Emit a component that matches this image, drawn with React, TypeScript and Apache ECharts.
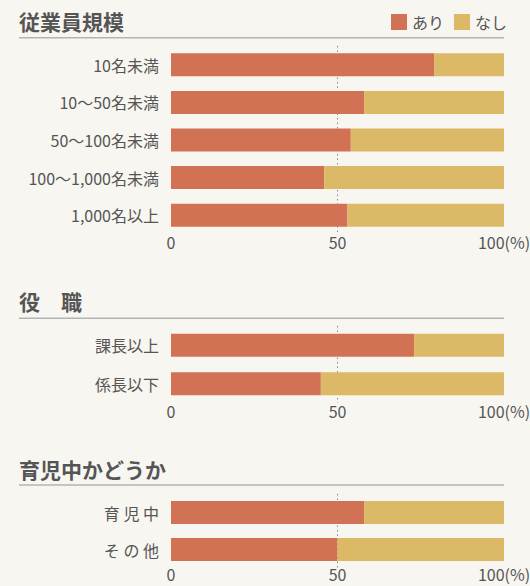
import React, { useEffect, useRef } from "react";
import * as echarts from "echarts";

const categories1 = ["10名未満", "10〜50名未満", "50〜100名未満", "100〜1,000名未満", "1,000名以上"];
const ari1 = [79, 58, 54, 46, 53];
const nashi1 = [21, 42, 46, 54, 47];

const categories2 = ["課長以上", "係長以下"];
const ari2 = [73, 45];
const nashi2 = [27, 55];

const categories3 = ["育 児 中", "そ の 他"];
const ari3 = [58, 50];
const nashi3 = [42, 50];

const sectionTitles = ["従業員規模", "役　職", "育児中かどうか"];
const legendNames = ["あり", "なし"];
const xTicks = [0, 50, 100];

const RED = "#d27255";
const YELLOW = "#dbb966";
const TEXT = "#555555";
const BG = "#f8f6f1";
const FONT = "'Noto Sans CJK JP', 'Noto Sans', sans-serif";

export default function App() {
  const ref = useRef<HTMLDivElement>(null);

  useEffect(() => {
    if (!ref.current) return;
    const chart = echarts.init(ref.current, null, { renderer: "svg" });

    const grids = [
      { left: 171, right: 26, top: 46, height: 188, outerBoundsMode: "none", containLabel: false },
      { left: 171, right: 26, top: 326, height: 77, outerBoundsMode: "none", containLabel: false },
      { left: 171, right: 26, top: 494, height: 74, outerBoundsMode: "none", containLabel: false },
    ];
    const labelMargins = [0, 0, -2];
    const cats = [categories1, categories2, categories3];
    const aris = [ari1, ari2, ari3];
    const nashis = [nashi1, nashi2, nashi3];
    const titleY = [23, 303, 471];
    const lineY = [37.7, 318.2, 485];

    const xAxis = grids.map((_, i) => ({
      type: "value",
      gridIndex: i,
      min: xTicks[0],
      max: xTicks[xTicks.length - 1],
      interval: xTicks[1] - xTicks[0],
      axisLine: { show: false },
      axisTick: { show: false },
      splitLine: {
        show: true,
        showMinLine: false,
        showMaxLine: false,
        lineStyle: { color: "#8a8a8a", type: [1.5, 3], width: 1 },
      },
      axisLabel: {
        color: TEXT,
        fontSize: 16,
        lineHeight: 16,
        fontFamily: FONT,
        margin: labelMargins[i],
        formatter: (v: number) => (v === 100 ? "100(%)" : String(v)),
      },
    }));

    const yAxis = grids.map((_, i) => ({
      type: "category",
      gridIndex: i,
      inverse: true,
      data: cats[i],
      axisLine: { show: false },
      axisTick: { show: false },
      splitLine: { show: false },
      axisLabel: { color: TEXT, fontSize: 16, fontFamily: FONT, margin: 12 },
    }));

    const series: any[] = [];
    grids.forEach((_, i) => {
      series.push({
        type: "bar",
        name: legendNames[0],
        stack: "s" + i,
        xAxisIndex: i,
        yAxisIndex: i,
        data: aris[i],
        barWidth: 23,
        itemStyle: { color: RED },
        z: 3,
      });
      series.push({
        type: "bar",
        name: legendNames[1],
        stack: "s" + i,
        xAxisIndex: i,
        yAxisIndex: i,
        data: nashis[i],
        barWidth: 23,
        itemStyle: { color: YELLOW },
        z: 3,
      });
    });

    const graphic: any[] = [];
    sectionTitles.forEach((t, i) => {
      graphic.push({
        type: "text",
        left: 19,
        top: titleY[i] - 13,
        style: {
          text: t,
          fill: TEXT,
          font: `bold 21px ${FONT}`,
        },
      });
      graphic.push({
        type: "line",
        shape: { x1: 19, y1: lineY[i], x2: 504, y2: lineY[i] },
        style: { stroke: "#b3b3b3", lineWidth: 1.5 },
      });
    });

    chart.setOption({
      animation: false,
      backgroundColor: BG,
      textStyle: { fontFamily: FONT },
      legend: {
        data: legendNames,
        right: 23,
        top: 14,
        padding: 0,
        icon: "rect",
        itemWidth: 16,
        itemHeight: 16,
        itemGap: 10,
        textStyle: { color: TEXT, fontSize: 16, fontFamily: FONT },
        selectedMode: false,
      },
      grid: grids,
      xAxis,
      yAxis,
      series,
      graphic,
    });

    return () => chart.dispose();
  }, []);

  return (
    <div
      ref={ref}
      style={{ position: "fixed", left: 0, top: 0, width: 530, height: 586, background: BG }}
    />
  );
}
